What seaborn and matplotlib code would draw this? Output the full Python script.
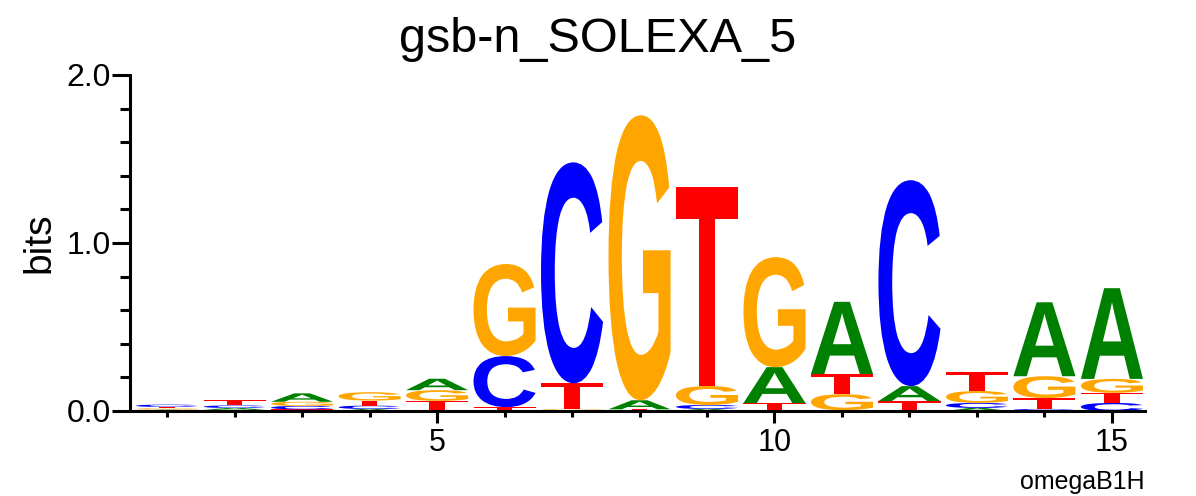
import matplotlib
matplotlib.use("Agg")
import matplotlib.pyplot as plt
import numpy as np
import seaborn as sns
from matplotlib.textpath import TextPath
from matplotlib.patches import PathPatch
from matplotlib.font_manager import FontProperties
from matplotlib.transforms import Affine2D
from matplotlib.ticker import MultipleLocator, FixedLocator

# letter heights in bits for positions 1..15
positions = list(range(1, 16))
bits_A = [0.008, 0.012, 0.050, 0.012, 0.068, 0.005, 0.005, 0.054, 0.012, 0.214, 0.430, 0.089, 0.018, 0.440, 0.540]
bits_C = [0.014, 0.015, 0.020, 0.020, 0.005, 0.304, 1.315, 0.005, 0.024, 0.005, 0.005, 1.226, 0.030, 0.012, 0.048]
bits_G = [0.008, 0.006, 0.025, 0.050, 0.064, 0.548, 0.005, 1.696, 0.113, 0.655, 0.095, 0.005, 0.071, 0.130, 0.083]
bits_T = [0.008, 0.030, 0.010, 0.030, 0.055, 0.018, 0.155, 0.005, 1.185, 0.042, 0.120, 0.054, 0.113, 0.065, 0.060]

letter_colors = {'A': '#008000', 'C': '#0000ff', 'G': '#ffa500', 'T': '#ff0000'}
glyph_font = FontProperties(family='Liberation Sans', weight='bold')


def draw_letter(ax, letter, x, y, width, height):
	path = TextPath((0, 0), letter, size=1, prop=glyph_font)
	ext = path.get_extents()
	tr = Affine2D().translate(-ext.x0, -ext.y0).scale(width / ext.width, height / ext.height).translate(x - width / 2, y)
	ax.add_patch(PathPatch(tr.transform_path(path), facecolor=letter_colors[letter], edgecolor='none', lw=0))


sns.set_style("ticks")
plt.rcParams['font.family'] = ['Liberation Sans', 'DejaVu Sans']
plt.rcParams['text.color'] = 'black'
plt.rcParams['axes.labelcolor'] = 'black'
plt.rcParams['xtick.color'] = 'black'
plt.rcParams['ytick.color'] = 'black'
plt.rcParams['axes.edgecolor'] = 'black'

fig = plt.figure(figsize=(11.96, 4.96), dpi=100)
ax = fig.add_axes([130 / 1196, 1 - 411 / 496, 1015 / 1196, 336 / 496])

for i, pos in enumerate(positions):
	col = {'A': bits_A[i], 'C': bits_C[i], 'G': bits_G[i], 'T': bits_T[i]}
	y = 0.0
	for letter, h in sorted(col.items(), key=lambda kv: kv[1]):
		draw_letter(ax, letter, pos, y, 0.92, h)
		y += h

ax.set_xlim(0.45, 15.49)
ax.set_ylim(0, 2.0)
sns.despine(ax=ax)
for side in ['left', 'bottom']:
	ax.spines[side].set_linewidth(2.2)

ax.xaxis.set_major_locator(FixedLocator([5, 10, 15]))
ax.xaxis.set_minor_locator(MultipleLocator(1))
ax.yaxis.set_major_locator(FixedLocator([0, 1, 2]))
ax.yaxis.set_minor_locator(MultipleLocator(0.2))
ax.set_yticklabels(['0.0', '1.0', '2.0'])
ax.tick_params(axis='y', which='major', length=13, width=2.2, labelsize=23, pad=1)
ax.tick_params(axis='y', which='minor', length=7, width=2.2)
ax.tick_params(axis='x', which='major', length=8.5, width=2.2, labelsize=22, pad=4)
ax.tick_params(axis='x', which='minor', length=4.5, width=2.2)

ax.set_ylabel('bits', fontsize=28, labelpad=6)
fig.text(1145 / 1196, 1 - 489 / 496, 'omegaB1H', fontsize=18, ha='right', va='baseline')
fig.text(0.5, 1 - 52 / 496, 'gsb-n_SOLEXA_5', fontsize=35, ha='center', va='baseline')

fig.savefig('out.png', dpi=100)
